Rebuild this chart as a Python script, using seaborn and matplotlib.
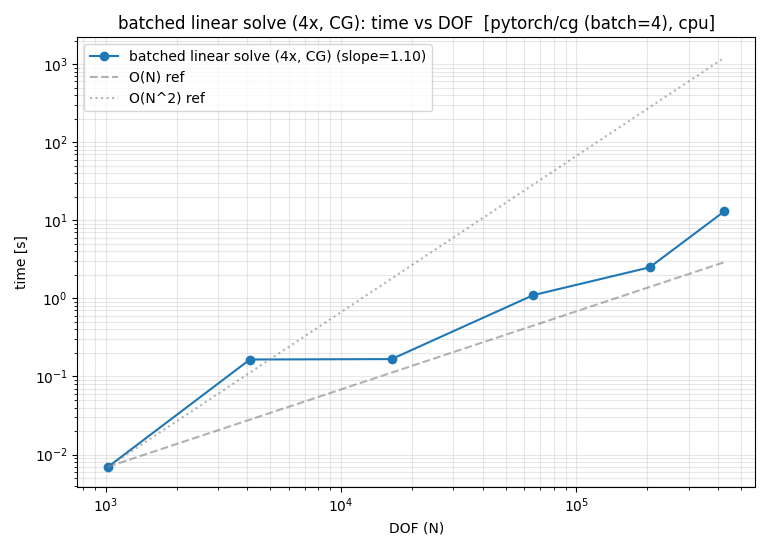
import numpy as np
import pandas as pd
import seaborn as sns
import matplotlib.pyplot as plt

dof = [1024, 4096, 16384, 65536, 205000, 425000]
times = [0.0070, 0.165, 0.167, 1.10, 2.5, 13.0]
label = "batched linear solve (4x, CG) (slope=1.10)"

sns.reset_orig()
plt.rcParams['font.family'] = ['DejaVu Sans']

df = pd.DataFrame({"dof": dof, "time": times})
ref_n = np.array([dof[0], dof[-1]], dtype=float)
ref_df = pd.DataFrame({
    "dof": ref_n,
    "lin": times[0] * ref_n / dof[0],
    "quad": times[0] * (ref_n / dof[0]) ** 2,
})

fig, ax = plt.subplots(figsize=(7.7, 5.5), dpi=100)
sns.lineplot(data=df, x="dof", y="time", marker="o", markersize=7,
             markeredgewidth=0, color="#1f77b4", label=label, ax=ax)
sns.lineplot(data=ref_df, x="dof", y="lin", color="gray", alpha=0.6,
             linestyle="--", label="O(N) ref", ax=ax)
sns.lineplot(data=ref_df, x="dof", y="quad", color="gray", alpha=0.6,
             linestyle=":", label="O(N^2) ref", ax=ax)
ax.set_xscale("log")
ax.set_yscale("log")
ax.grid(True, which="both", alpha=0.3)
ax.set_xlabel("DOF (N)")
ax.set_ylabel("time [s]")
ax.set_title("batched linear solve (4x, CG): time vs DOF  [pytorch/cg (batch=4), cpu]")
ax.legend(loc="upper left")
fig.tight_layout()
fig.savefig("out.png")
